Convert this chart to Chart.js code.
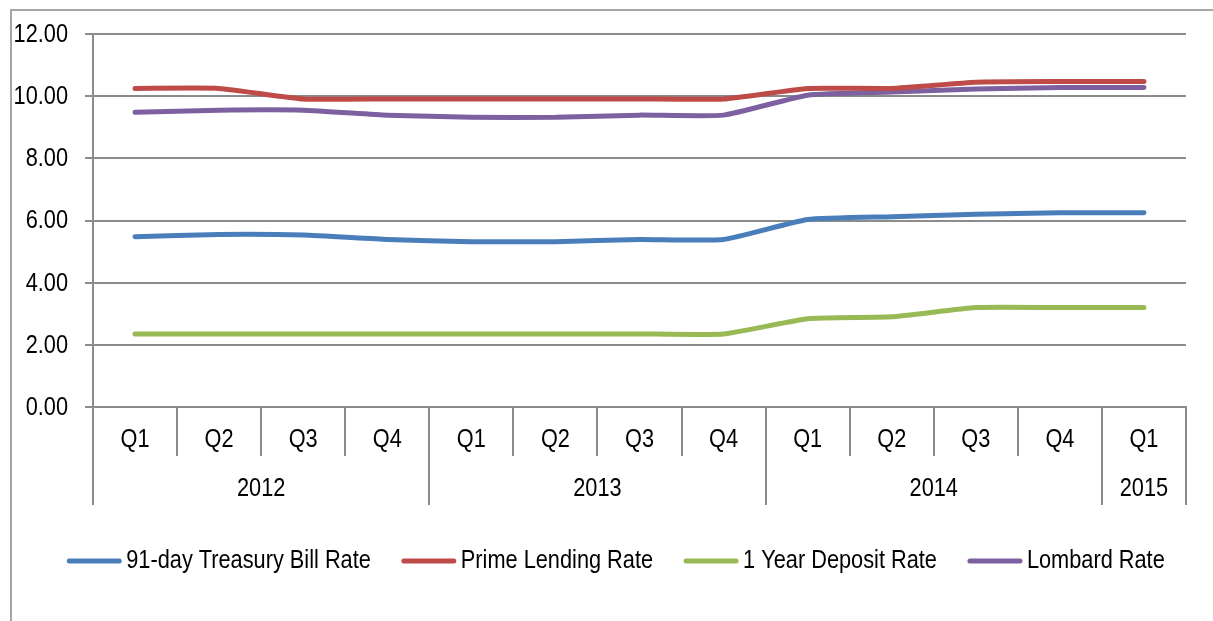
<!DOCTYPE html>
<html>
<head>
<meta charset="utf-8">
<script src="https://cdn.jsdelivr.net/npm/chart.js@4.4.0/dist/chart.umd.min.js"></script>
<style>
  html,body{margin:0;padding:0;background:#fff;}
  #wrap{position:relative;width:1213px;height:621px;}
</style>
</head>
<body>
<div id="wrap"><canvas id="c" width="1213" height="621"></canvas></div>
<script>
const quarters = ['Q1','Q2','Q3','Q4','Q1','Q2','Q3','Q4','Q1','Q2','Q3','Q4','Q1'];
const years = ['2012','2013','2014','2015'];
const yearSpans = [4,4,4,1];
const yTicks = [0,2,4,6,8,10,12];
const tbill   = [5.48,5.55,5.53,5.39,5.32,5.32,5.39,5.39,6.03,6.12,6.20,6.25,6.25];
const prime   = [10.25,10.25,9.91,9.91,9.91,9.91,9.91,9.91,10.25,10.25,10.45,10.47,10.47];
const deposit = [2.35,2.35,2.35,2.35,2.35,2.35,2.35,2.35,2.84,2.90,3.20,3.20,3.20];
const lombard = [9.48,9.55,9.55,9.39,9.32,9.32,9.39,9.39,10.03,10.13,10.23,10.28,10.28];
const seriesNames = ['91-day Treasury Bill Rate','Prime Lending Rate','1 Year Deposit Rate','Lombard Rate'];
const colors = ['#4A7EBB','#BE4B48','#98B954','#7D60A0'];

const FONT = '"Liberation Sans",Arial,sans-serif';
const GRID = '#8c8c8c';
const SX = 0.87;

function txt(ctx, s, x, y, align) {
  ctx.save();
  ctx.translate(x, y);
  ctx.scale(SX, 1);
  ctx.textAlign = align;
  ctx.textBaseline = 'middle';
  ctx.fillText(s, 0, 0);
  ctx.restore();
}

const extras = {
  id:'extras',
  beforeDraw(chart){
    const ctx = chart.ctx;
    ctx.save();
    ctx.strokeStyle = '#a6a6a6';
    ctx.lineWidth = 2;
    ctx.beginPath();
    ctx.moveTo(11, 621); ctx.lineTo(11, 10); ctx.lineTo(1213, 10);
    ctx.stroke();
    ctx.restore();
  },
  afterDraw(chart){
    const ctx = chart.ctx;
    const xs = chart.scales.x, ys = chart.scales.y;
    const area = chart.chartArea;
    const n = quarters.length;
    const w = (area.right - area.left) / n;
    ctx.save();
    ctx.strokeStyle = GRID;
    ctx.lineWidth = 2;
    let yearBounds = [0];
    let acc = 0;
    yearSpans.forEach(s => { acc += s; yearBounds.push(acc); });
    for (let i = 0; i <= n; i++) {
      const x = Math.round(area.left + i * w);
      const long = yearBounds.includes(i);
      ctx.beginPath();
      ctx.moveTo(x, area.bottom);
      ctx.lineTo(x, long ? area.bottom + 98 : area.bottom + 49);
      ctx.stroke();
    }
    ctx.beginPath();
    ctx.moveTo(area.left, area.top); ctx.lineTo(area.left, area.bottom);
    ctx.stroke();

    ctx.fillStyle = '#000';
    ctx.font = '25px ' + FONT;
    yTicks.forEach(v => txt(ctx, v.toFixed(2), area.left - 25, ys.getPixelForValue(v) + 1, 'right'));
    quarters.forEach((q, i) => txt(ctx, q, xs.getPixelForValue(i), area.bottom + 33, 'center'));
    for (let k = 0; k < years.length; k++) {
      const x0 = area.left + yearBounds[k] * w;
      const x1 = area.left + yearBounds[k+1] * w;
      txt(ctx, years[k], (x0 + x1) / 2, area.bottom + 82, 'center');
    }
    const ds = chart.data.datasets;
    const lineW = 54, gapText = 5, gapItem = 31;
    const widths = ds.map(d => ctx.measureText(d.label).width * SX);
    let total = 0;
    widths.forEach((tw, i) => { total += lineW + gapText + tw + (i < widths.length - 1 ? gapItem : 0); });
    let x = 616 - total / 2;
    const ly = 561;
    ds.forEach((d, i) => {
      ctx.strokeStyle = d.borderColor;
      ctx.lineWidth = 5;
      ctx.lineCap = 'round';
      ctx.beginPath();
      ctx.moveTo(x + 2, ly); ctx.lineTo(x + lineW - 2, ly);
      ctx.stroke();
      ctx.fillStyle = '#000';
      txt(ctx, d.label, x + lineW + gapText, ly, 'left');
      x += lineW + gapText + widths[i] + gapItem;
    });
    ctx.restore();
  }
};

const allSeries = [tbill, prime, deposit, lombard];
new Chart(document.getElementById('c'), {
  type: 'line',
  data: {
    labels: quarters,
    datasets: allSeries.map((s, i) => ({
      label: seriesNames[i],
      data: s,
      borderColor: colors[i],
      backgroundColor: colors[i],
      borderWidth: 5,
      borderCapStyle: 'round',
      borderJoinStyle: 'round',
      pointRadius: 0,
      tension: 0.15,
      fill: false
    }))
  },
  options: {
    responsive: false,
    animation: false,
    devicePixelRatio: 1,
    layout: { padding: { left: 0, top: 34, right: 27, bottom: 114 } },
    plugins: { legend: { display: false }, tooltip: { enabled: false } },
    scales: {
      x: {
        type: 'category',
        offset: true,
        grid: { display: false, drawTicks: false },
        border: { display: true, color: GRID, width: 2 },
        ticks: { display: false },
        afterFit(s) { s.height = 100; }
      },
      y: {
        min: 0, max: 12,
        ticks: { stepSize: 2, display: false },
        grid: { color: GRID, lineWidth: 2, tickLength: 8, drawTicks: true },
        border: { display: true, color: GRID, width: 2 },
        afterFit(s) { s.width = 93; }
      }
    }
  },
  plugins: [extras]
});
</script>
</body>
</html>
